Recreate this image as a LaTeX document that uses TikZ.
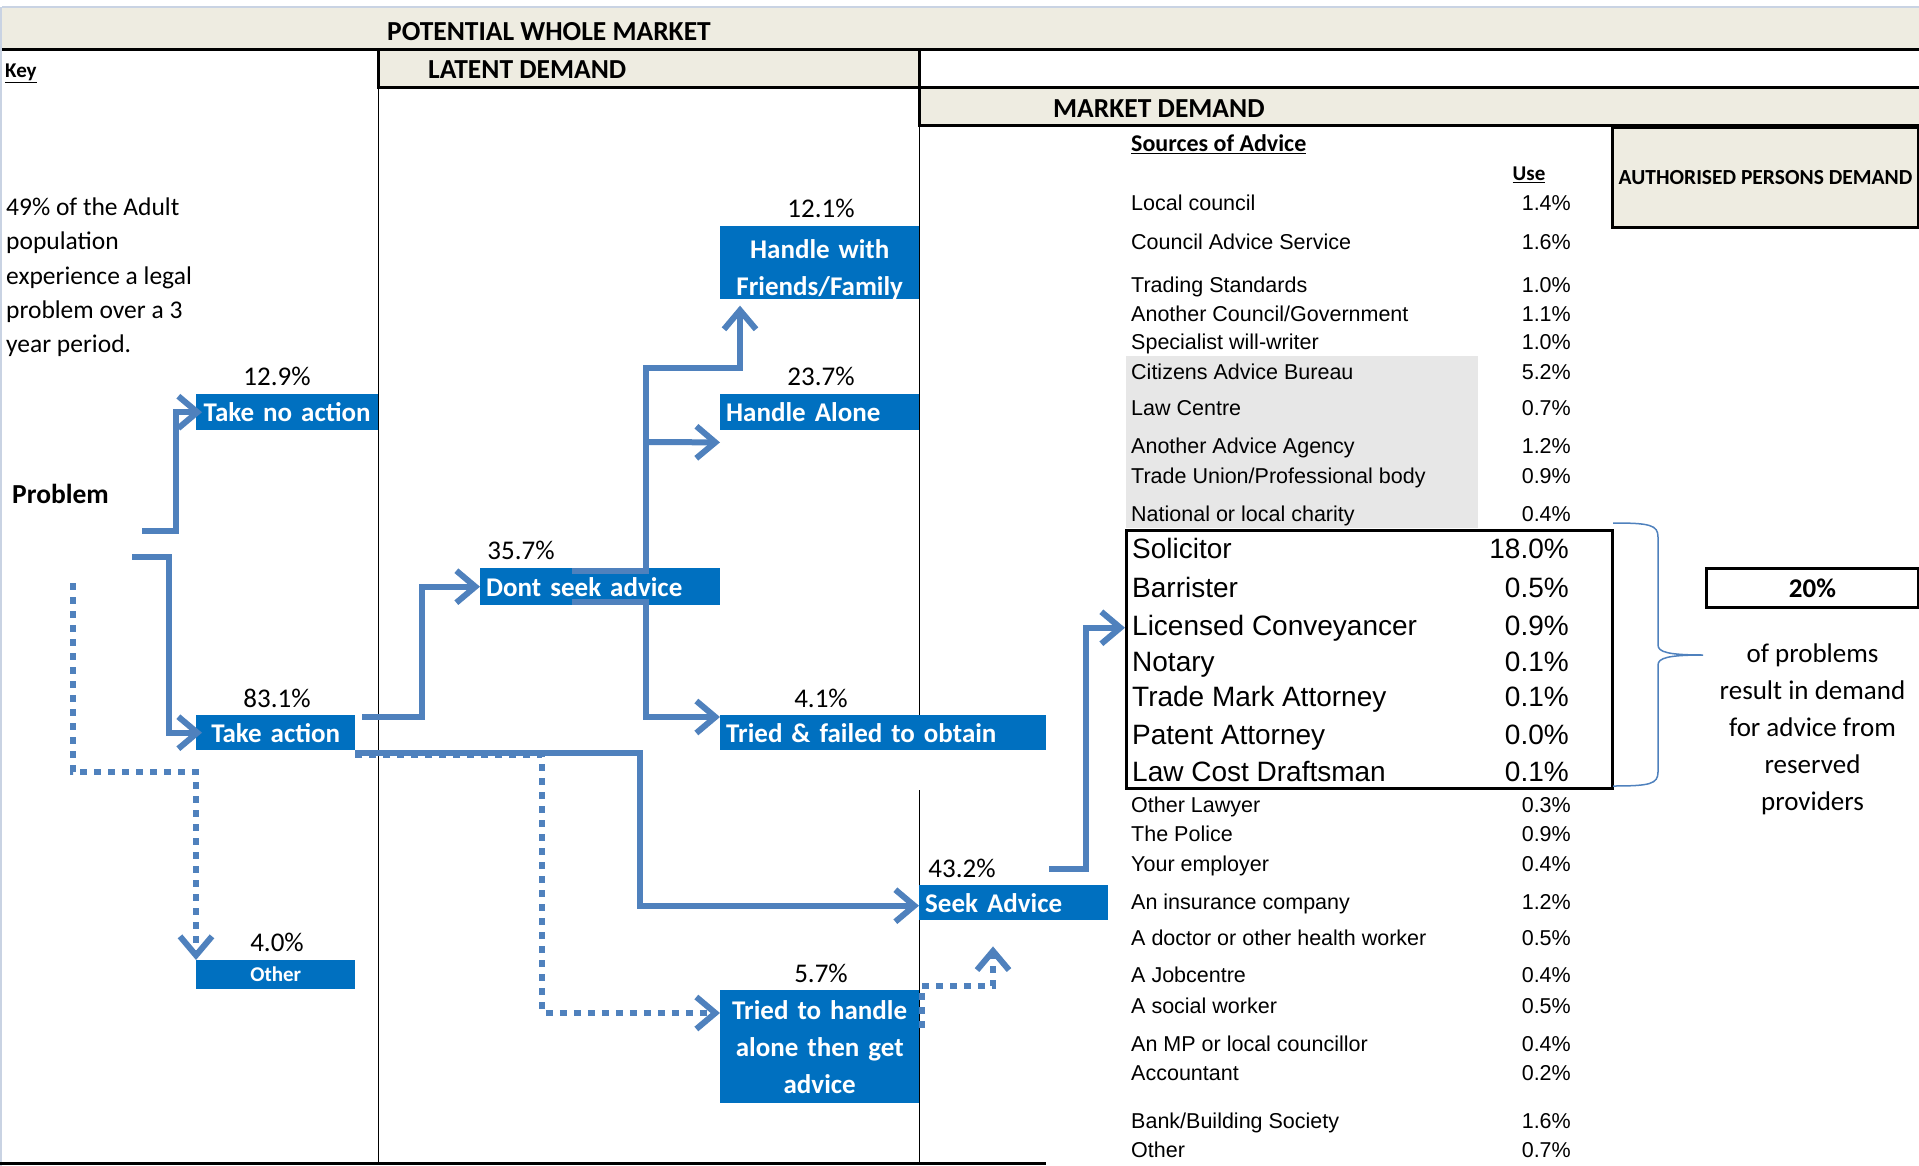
\documentclass[tikz,border=0pt]{standalone}
\usepackage{fontspec}
\usetikzlibrary{positioning, arrows.meta}
\newfontfamily\calfont{Carlito}
\newfontfamily\arialfont{Liberation Sans}
\definecolor{boxblue}{HTML}{0070C0}
\definecolor{arrowblue}{HTML}{4F81BD}
\definecolor{headbeige}{HTML}{EEECE1}
\definecolor{shadegrey}{HTML}{E7E7E7}
\definecolor{edgegrey}{HTML}{C9D3E3}

\tikzset{
  bluebox/.style={fill=boxblue, text=white, inner xsep=6pt, inner ysep=0pt, anchor=north west,
    font=\calfont\bfseries\fontsize{27}{37}\selectfont},
  pct/.style={font=\calfont\fontsize{27}{32}\selectfont, inner sep=0pt},
  head/.style={font=\calfont\bfseries\fontsize{27.5}{30}\selectfont, inner sep=0pt},
  flow/.style={draw=arrowblue, line width=6pt, -{Straight Barb[length=19pt, width=32pt]}},
  dotflow/.style={flow, dash pattern=on 7pt off 7pt},
  src/.style={font=\arialfont\fontsize{21.5}{24}\selectfont, inner sep=0pt, anchor=base west},
  val/.style={src, anchor=base east},
  rsv/.style={font=\arialfont\fontsize{28}{30}\selectfont, inner sep=0pt, anchor=base west},
  rval/.style={rsv, anchor=base east}
}

\begin{document}
\begin{tikzpicture}[x=1pt, y=-1pt]
    \useasboundingbox (0,0) rectangle (1919,1166);

    % Header bands
    \fill[headbeige] (2,7) rectangle (1919,50);
    \fill[headbeige] (378,50) rectangle (919,88);
    \fill[headbeige] (919,88) rectangle (1919,126);
    \draw[edgegrey, line width=1.5pt] (2,7) -- (1919,7);
    \draw[edgegrey, line width=1.5pt] (1,7) -- (1,1166);
    \draw[line width=3pt] (2,50) -- (1919,50);
    \draw[line width=3pt] (378,50) -- (378,88) -- (1919,88);
    \draw[line width=3pt] (919,50) -- (919,126) -- (1919,126);
    \draw[line width=3pt] (0,1163) -- (1046,1163);

    % Column lines
    \draw[line width=1pt] (378,88) -- (378,1163);
    \draw[line width=1pt] (919,126) -- (919,715);
    \draw[line width=1pt] (919,790) -- (919,1163);

    % Shaded advice agencies
    \fill[shadegrey] (1126,356) rectangle (1478,528);

    % Headings
    \node[head] (pwm) at (549,32) {POTENTIAL WHOLE MARKET};
    \node[head, anchor=west] (lat) at (428,70) {LATENT DEMAND};
    \node[head, anchor=west] (mkt) at (1053,109) {MARKET DEMAND};
    \node[draw, line width=3pt, fill=headbeige, minimum width=306pt, minimum height=100pt, anchor=north west, inner sep=0pt,
      font=\calfont\bfseries\fontsize{21.5}{24}\selectfont] (apd) at (1611,126) {AUTHORISED PERSONS DEMAND};
    \node[font=\calfont\bfseries\fontsize{21}{24}\selectfont, inner sep=0pt, anchor=base west] (key) at (5,78) {\underline{Key}};

    % Left column text
    \node[font=\calfont\fontsize{25.5}{34.3}\selectfont, align=left, inner sep=0pt, anchor=north west] (intro) at (6,197.5)
      {49\% of the Adult\\population\\experience a legal\\problem over a 3\\year period.};
    \node[font=\calfont\bfseries\fontsize{27.5}{30}\selectfont, inner sep=0pt, anchor=west] (prob) at (12,494) {Problem};

    % Draw nodes
    \node[bluebox, text width=170pt, minimum height=36pt, align=center] (tna) at (196,394) {Take no action};
    \node[bluebox, text width=147pt, minimum height=35pt, align=center] (ta) at (196,715) {Take action};
    \node[bluebox, text width=147pt, minimum height=29pt, align=center,
      font=\calfont\bfseries\fontsize{21}{24}\selectfont] (oth) at (196,960) {Other};
    \node[bluebox, text width=228pt, minimum height=37pt, align=left] (dsa) at (480,568) {Dont seek advice};
    \node[bluebox, text width=187pt, minimum height=71pt, align=center] (hff) at (720,226) {\rule{0pt}{32pt}Handle with\\Friends/Family};
    \node[bluebox, text width=187pt, minimum height=36pt, align=left] (ha) at (720,394) {Handle Alone};
    \node[bluebox, text width=314pt, minimum height=35pt, align=left] (tf) at (720,715) {Tried \& failed to obtain};
    \node[bluebox, text width=177pt, minimum height=35pt, align=left] (sa) at (919,885) {Seek Advice};
    \node[bluebox, text width=187pt, minimum height=113pt, align=center] (th) at (720,990) {Tried to handle\\alone then get\\advice};

    % Percentages
    \node[pct] (p1) at (277,376) {12.9\%};
    \node[pct] (p2) at (277,698) {83.1\%};
    \node[pct] (p3) at (277,942) {4.0\%};
    \node[pct] (p4) at (521,550) {35.7\%};
    \node[pct] (p5) at (821,208) {12.1\%};
    \node[pct] (p6) at (821,376) {23.7\%};
    \node[pct] (p7) at (821,698) {4.1\%};
    \node[pct] (p8) at (962,868) {43.2\%};
    \node[pct] (p9) at (821,973) {5.7\%};

    % Sources of advice
    \node[font=\calfont\bfseries\fontsize{24}{27}\selectfont, inner sep=0pt, anchor=base west] (soa) at (1131,152) {\underline{Sources of Advice}};
    \node[font=\calfont\bfseries\fontsize{21}{24}\selectfont, inner sep=0pt, anchor=base] (use) at (1529,181) {\underline{Use}};
    \node[src] (s1) at (1131,211) {Local council};                   \node[val] (v1) at (1571,211) {1.4\%};
    \node[src] (s2) at (1131,250) {Council Advice Service};          \node[val] (v2) at (1571,250) {1.6\%};
    \node[src] (s3) at (1131,292) {Trading Standards};               \node[val] (v3) at (1571,292) {1.0\%};
    \node[src] (s4) at (1131,321) {Another Council/Government};      \node[val] (v4) at (1571,321) {1.1\%};
    \node[src] (s5) at (1131,349) {Specialist will-writer};          \node[val] (v5) at (1571,349) {1.0\%};
    \node[src] (s6) at (1131,379) {Citizens Advice Bureau};          \node[val] (v6) at (1571,379) {5.2\%};
    \node[src] (s7) at (1131,415) {Law Centre};                      \node[val] (v7) at (1571,415) {0.7\%};
    \node[src] (s8) at (1131,453) {Another Advice Agency};           \node[val] (v8) at (1571,453) {1.2\%};
    \node[src] (s9) at (1131,483) {Trade Union/Professional body};   \node[val] (v9) at (1571,483) {0.9\%};
    \node[src] (s10) at (1131,521) {National or local charity};      \node[val] (v10) at (1571,521) {0.4\%};

    % Reserved providers
    \node[draw, line width=3pt, minimum width=486pt, minimum height=258pt, anchor=north west, inner sep=0pt] (resv) at (1125,529) {};
    \node[rsv] (r1) at (1132,558) {Solicitor};               \node[rval] (rv1) at (1569,558) {18.0\%};
    \node[rsv] (r2) at (1132,597) {Barrister};               \node[rval] (rv2) at (1569,597) {0.5\%};
    \node[rsv] (r3) at (1132,635) {Licensed Conveyancer};    \node[rval] (rv3) at (1569,635) {0.9\%};
    \node[rsv] (r4) at (1132,671) {Notary};                  \node[rval] (rv4) at (1569,671) {0.1\%};
    \node[rsv] (r5) at (1132,706) {Trade Mark Attorney};     \node[rval] (rv5) at (1569,706) {0.1\%};
    \node[rsv] (r6) at (1132,744) {Patent Attorney};         \node[rval] (rv6) at (1569,744) {0.0\%};
    \node[rsv] (r7) at (1132,781) {Law Cost Draftsman};      \node[rval] (rv7) at (1569,781) {0.1\%};

    \node[src] (s11) at (1131,812) {Other Lawyer};                   \node[val] (v11) at (1571,812) {0.3\%};
    \node[src] (s12) at (1131,841) {The Police};                     \node[val] (v12) at (1571,841) {0.9\%};
    \node[src] (s13) at (1131,871) {Your employer};                  \node[val] (v13) at (1571,871) {0.4\%};
    \node[src] (s14) at (1131,909) {An insurance company};           \node[val] (v14) at (1571,909) {1.2\%};
    \node[src] (s15) at (1131,945) {A doctor or other health worker};\node[val] (v15) at (1571,945) {0.5\%};
    \node[src] (s16) at (1131,982) {A Jobcentre};                    \node[val] (v16) at (1571,982) {0.4\%};
    \node[src] (s17) at (1131,1013) {A social worker};               \node[val] (v17) at (1571,1013) {0.5\%};
    \node[src] (s18) at (1131,1051) {An MP or local councillor};     \node[val] (v18) at (1571,1051) {0.4\%};
    \node[src] (s19) at (1131,1080) {Accountant};                    \node[val] (v19) at (1571,1080) {0.2\%};
    \node[src] (s20) at (1131,1128) {Bank/Building Society};         \node[val] (v20) at (1571,1128) {1.6\%};
    \node[src] (s21) at (1131,1157) {Other};                         \node[val] (v21) at (1571,1157) {0.7\%};

    % Brace and summary
    \draw[arrowblue, line width=1.5pt] (1613,523) .. controls (1650,523) and (1658,525) .. (1658,537) -- (1658,645)
      .. controls (1658,652) and (1668,655) .. (1703,655) .. controls (1668,655) and (1658,658) .. (1658,665)
      -- (1658,772) .. controls (1658,784) and (1650,786) .. (1613,786);
    \node[draw, line width=3pt, minimum width=212pt, minimum height=39pt, anchor=north west, inner sep=0pt,
      font=\calfont\bfseries\fontsize{27}{30}\selectfont] (pct20) at (1705,567) {20\%};
    \node[below=35pt of pct20, align=center, inner sep=0pt, font=\calfont\fontsize{27}{37}\selectfont] (res)
      {of problems\\result in demand\\for advice from\\reserved\\providers};

    % Draw connections
    \coordinate (q1) at (142,531);
    \coordinate (q2) at (132,557);
    \coordinate (q3) at (73,583);
    \coordinate (jn) at (646,442);
    \draw[flow] (q1) -- ++(34,0) |- ([xshift=6pt]tna.west);
    \draw[flow] (q2) -- ++(37,0) |- ([xshift=6pt]ta.west);
    \draw[dotflow] (q3) -- ++(0,189) -| (oth.north west);
    \draw[flow] ([xshift=7pt,yshift=-2pt]ta.north east) -- ++(60,0) |- (dsa.west);
    \draw[flow] ([xshift=92pt,yshift=-3pt]dsa.north west) -- ++(74,0) -- ++(0,-203) -- ++(94,0)
      -- ([xshift=20pt,yshift=-6pt]hff.south west);
    \draw[flow] (jn) -- ([yshift=-12pt]ha.south west);
    \draw[flow] ([xshift=92pt,yshift=3pt]dsa.south west) -- ++(74,0) |- ([yshift=-2pt]tf.north west);
    \draw[dotflow] ([yshift=-5pt]ta.south east) -- ++(187,0) |- ([yshift=-23pt]th.north west);
    \draw[flow] ([yshift=-3pt]ta.south east) -- ++(285,0) |- ([yshift=-3pt]sa.west);
    \draw[dotflow] ([xshift=3pt,yshift=-38pt]th.north east) -- ++(0,-42) -| ([xshift=74pt,yshift=-26pt]sa.south west);
    \draw[flow] ([xshift=-59pt,yshift=16pt]sa.north east) -- ++(37,0) |- (resv.west |- r3.west);
\end{tikzpicture}
\end{document}
